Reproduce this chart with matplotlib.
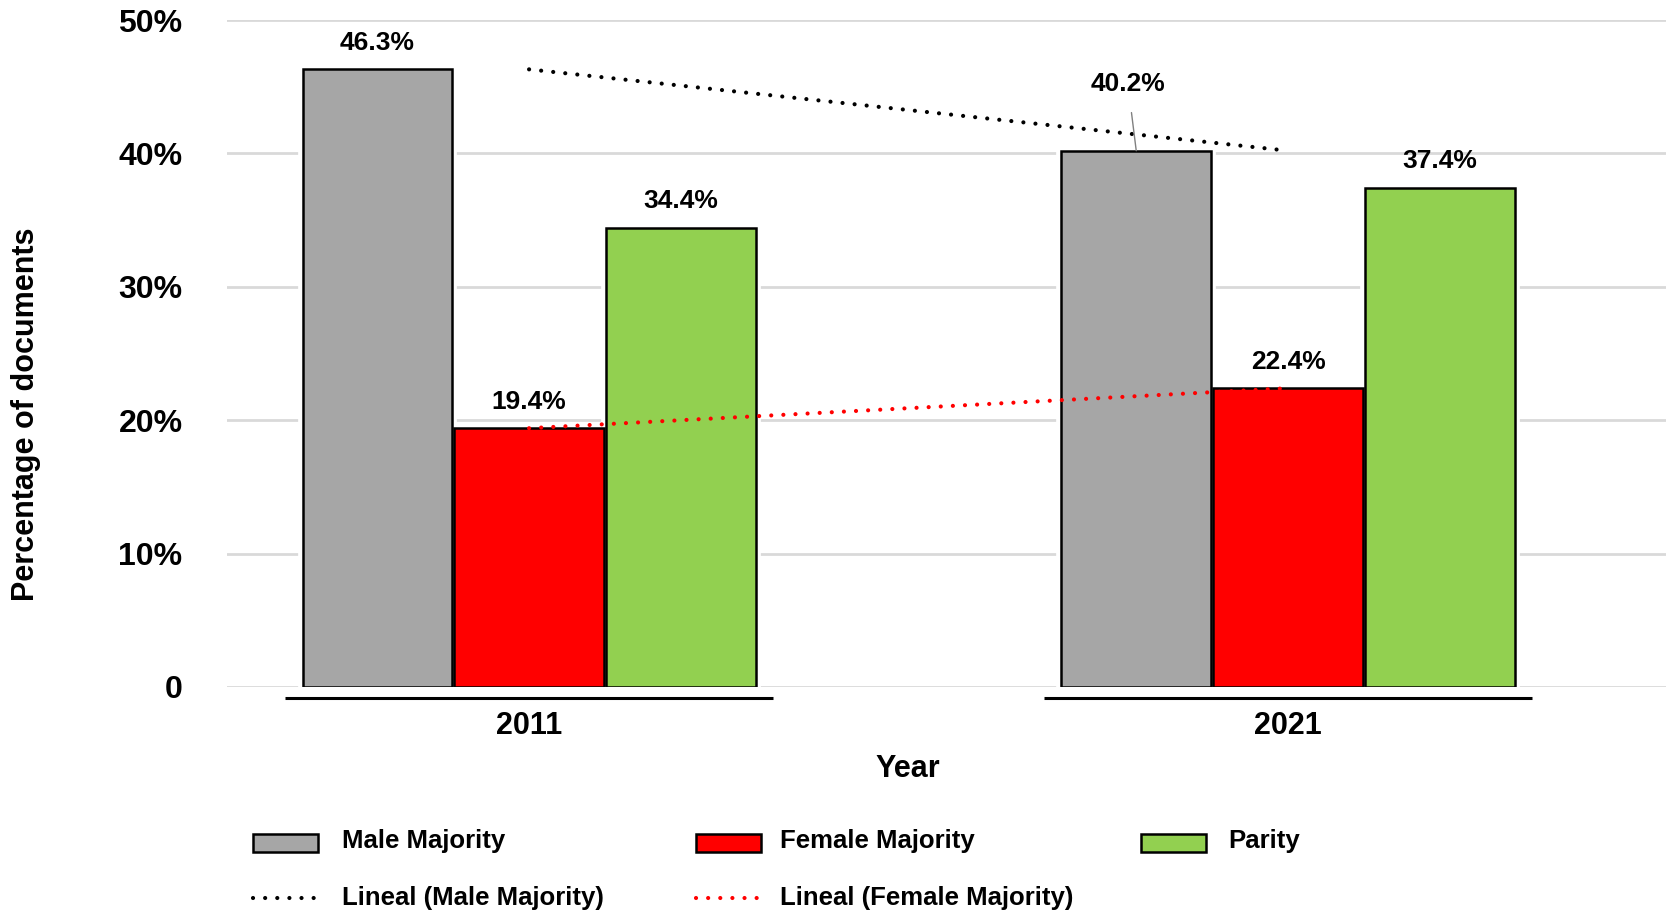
import matplotlib
matplotlib.use("Agg")
import matplotlib.pyplot as plt
from matplotlib.patches import Rectangle
from matplotlib.lines import Line2D
import numpy as np

plt.rcParams['font.family'] = ['Liberation Sans', 'DejaVu Sans']
plt.rcParams['font.weight'] = 'bold'

# ---- data ----
years = ["2011", "2021"]
series_names = ["Male Majority", "Female Majority", "Parity"]
male = [46.3, 40.2]
female = [19.4, 22.4]
parity = [34.4, 37.4]
trend_names = ["Lineal (Male Majority)", "Lineal (Female Majority)"]
yticks = [0, 10, 20, 30, 40, 50]
ytick_labels = ["0", "10%", "20%", "30%", "40%", "50%"]

colors = ["#A6A6A6", "#FF0000", "#92D050"]
trend_colors = ["#000000", "#FF0000"]

W, H = 1675, 917
fig = plt.figure(figsize=(W / 100, H / 100), dpi=100)
ax = fig.add_axes([227 / W, 1 - 687 / H, (1666 - 227) / W, (687 - 20) / H])

x = np.arange(len(years))
width = 0.197
offset = 0.2
values = [male, female, parity]

# white halo under bars (gridline gaps)
for i, vals in enumerate(values):
    ax.bar(x + (i - 1) * offset, vals, width, color="white", edgecolor="white",
           linewidth=7, zorder=2)
bars = []
for i, vals in enumerate(values):
    b = ax.bar(x + (i - 1) * offset, vals, width, color=colors[i], edgecolor="black",
               linewidth=1.8, zorder=3)
    bars.append(b)

# data labels
for i, vals in enumerate(values):
    for j, v in enumerate(vals):
        xc = x[j] + (i - 1) * offset
        if i == 0 and j == 1:
            ax.annotate(f"{v:.1f}%", xy=(xc, v), xytext=(xc - 0.011, v + 5.0),
                        ha="center", va="center", fontsize=19, fontweight="bold",
                        arrowprops=dict(arrowstyle="-", color="#808080", lw=1.0,
                                        shrinkA=10, shrinkB=0), zorder=6)
        else:
            ax.text(xc, v + 2.0, f"{v:.1f}%", ha="center", va="center",
                    fontsize=19, fontweight="bold", zorder=6)

# linear trend lines (through category centres)
for vals, col in zip([male, female], trend_colors):
    coef = np.polyfit(x, vals, 1)
    ax.plot(x, np.polyval(coef, x), linestyle=(0, (0.01, 2.9)), color=col,
            linewidth=3.0, dash_capstyle="round", zorder=5)

# axes styling
ax.set_xlim(-0.398, 1.498)
ax.set_ylim(0, 50)
ax.set_yticks(yticks)
ax.set_yticklabels(ytick_labels)
ax.set_xticks(x)
ax.set_xticklabels(years)
ax.tick_params(axis="y", length=0, pad=32, labelsize=23)
ax.tick_params(axis="x", length=0, pad=17, labelsize=22)
for s in ax.spines.values():
    s.set_visible(False)
ax.grid(axis="y", color="#D9D9D9", linewidth=2.0, zorder=0)
ax.set_axisbelow(True)

# category underlines
for xi in x:
    ax.plot([xi - 0.321, xi + 0.321], [-0.0165, -0.0165], color="black", lw=2.2,
            transform=ax.get_xaxis_transform(), clip_on=False, solid_capstyle="butt")

ax.set_ylabel("Percentage of documents", fontsize=22, fontweight="bold")
ax.yaxis.set_label_coords(-0.1295, 0.409)
ax.set_xlabel("Year", fontsize=22, fontweight="bold")
ax.xaxis.set_label_coords(0.473, -0.101)

# manual legend
def fx(px):
    return px / W

def fy(py):
    return 1 - py / H

patch_x = [253, 696, 1141]
text_x = [342, 780, 1228]
row1, row2 = 841, 898
for i, name in enumerate(series_names):
    fig.add_artist(Rectangle((fx(patch_x[i]), fy(row1 + 11)), fx(65), 18 / H,
                             facecolor=colors[i], edgecolor="black", linewidth=1.8,
                             transform=fig.transFigure))
    fig.text(fx(text_x[i]), fy(row1), name, ha="left", va="center",
             fontsize=18.5, fontweight="bold")
for i, name in enumerate(trend_names):
    fig.add_artist(Line2D([fx(patch_x[i]), fx(patch_x[i] + 65)], [fy(row2), fy(row2)],
                          linestyle=(0, (0.01, 2.9)), color=trend_colors[i], linewidth=3.0,
                          dash_capstyle="round", transform=fig.transFigure))
    fig.text(fx(text_x[i]), fy(row2), name, ha="left", va="center",
             fontsize=18.5, fontweight="bold")

fig.savefig("out.png", dpi=100)
